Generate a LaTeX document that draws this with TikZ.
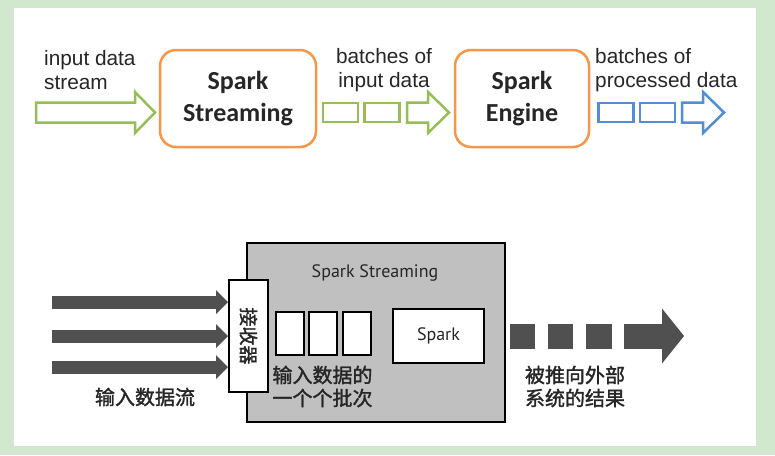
\documentclass[tikz,border=0pt]{standalone}
\usepackage{fontspec}
\setmainfont{Liberation Sans}
\newfontfamily\calibri{Carlito}
\newfontfamily\narrowsans{PT Sans}
\newfontfamily\cjk{Noto Sans CJK SC}[FakeBold=1.6]
\usetikzlibrary{arrows.meta}

\definecolor{bgGreen}{RGB}{210,232,206}
\definecolor{boxOrange}{RGB}{246,150,72}
\definecolor{streamGreen}{RGB}{150,190,85}
\definecolor{batchBlue}{RGB}{80,142,214}
\definecolor{darkArrow}{RGB}{80,80,80}
\definecolor{coreGray}{RGB}{192,192,192}

\tikzset{
  engine/.style={draw=boxOrange, line width=2.5, rounded corners=16, align=center,
    text=black!85, font=\calibri\bfseries\fontsize{26}{32}\selectfont},
  plaintext/.style={align=center, inner sep=0, text=black!85,
    font=\fontsize{20.8}{24}\selectfont},
  greenline/.style={draw=streamGreen, line width=2.5},
  blueline/.style={draw=batchBlue, line width=2.5},
  batch/.style={minimum width=35, minimum height=19, inner sep=0},
  cjktext/.style={align=left, inner sep=0, text=black!85,
    font=\cjk\fontsize{20}{23}\selectfont},
  whitebox/.style={draw=black, line width=2, fill=white, inner sep=0},
  feed/.style={darkArrow, line width=13, -{Triangle[length=12pt, width=24pt, line width=0pt]}},
  pushout/.style={darkArrow, line width=25,
    dash pattern=on 25pt off 13pt on 25pt off 13pt on 26pt off 12pt on 60pt off 1pt,
    -{Triangle[length=22pt, width=55pt, line width=0pt]}}
}

\begin{document}
\begin{tikzpicture}[x=1pt,y=-1pt]

  % page and panel
  \fill[bgGreen] (0,0) rectangle (775,455);
  \fill[white] (14,8) rectangle (756,446);
  \useasboundingbox (0,0) rectangle (775,455);

  % top row: engines
  \node[engine, minimum width=156, minimum height=97] (sstream) at (238,98.5) {Spark\\Streaming};
  \node[engine, minimum width=134, minimum height=97] (sengine) at (522,98.5) {Spark\\Engine};

  \begin{scope}[every node/.style={plaintext}]
    \node[anchor=west, align=left] (instream) at (44,70) {input data\\stream};
    \node (inbatches) at (384,70) {batches of\\input data};
    \node[anchor=west, align=left] (outbatches) at (595,70) {batches of\\processed data};
  \end{scope}

  % hollow arrows and batches
  \draw[greenline] (155,112.5) -- (135,92) -- (135,102.5) -- (36,102.5) -- (36,122.5)
    -- (135,122.5) -- (135,133) -- cycle;

  \begin{scope}[every node/.style={batch, greenline}]
    \node (gb1) at (340.5,112.5) {};
    \node (gb2) at (382,112.5) {};
  \end{scope}
  \draw[greenline] (449,112.5) -- (428,92) -- (428,102.5) -- (407,102.5) -- (407,122.5)
    -- (428,122.5) -- (428,133) -- cycle;

  \begin{scope}[every node/.style={batch, blueline}]
    \node (bb1) at (616,112.5) {};
    \node (bb2) at (657.5,112.5) {};
  \end{scope}
  \draw[blueline] (724,112.5) -- (703,92) -- (703,102.5) -- (682,102.5) -- (682,122.5)
    -- (703,122.5) -- (703,133) -- cycle;

  % bottom: spark streaming core
  \node[draw=black, line width=2, fill=coreGray, minimum width=258, minimum height=179] (core) at (376,332.5) {};
  \node[text=black!85, font=\narrowsans\fontsize{18}{20}\selectfont] (coretitle) at (375,273) {Spark Streaming};

  \node[whitebox, minimum width=39, minimum height=112, text=black!85,
    font=\cjk\fontsize{19}{20}\selectfont] (recv) at (248.5,336) {\rotatebox{-90}{接收器}};

  \begin{scope}[every node/.style={whitebox, minimum width=28, minimum height=43}]
    \node (rdd1) at (290,333.5) {};
    \node (rdd2) at (323,333.5) {};
    \node (rdd3) at (357,333.5) {};
  \end{scope}
  \node[whitebox, minimum width=91, minimum height=54, text=black!85,
    font=\narrowsans\fontsize{18}{20}\selectfont] (sparkcore) at (438.5,336) {Spark};

  % input streams
  \foreach \y [count=\i] in {302,336,367} {
    \coordinate (src\i) at (52,\y);
    \draw[feed] (src\i) -- (src\i -| recv.west);
  }

  % results
  \coordinate (outstart) at (510,336);
  \coordinate (dest) at (684,336);
  \draw[pushout] (outstart) -- (dest);

  \begin{scope}[every node/.style={cjktext}]
    \node (instreamcn) at (145,397) {输入数据流};
    \node (batchcn) at (322.5,386.5) {输入数据的\\一个个批次};
    \node (resultcn) at (575,386.5) {被推向外部\\系统的结果};
  \end{scope}

\end{tikzpicture}
\end{document}
